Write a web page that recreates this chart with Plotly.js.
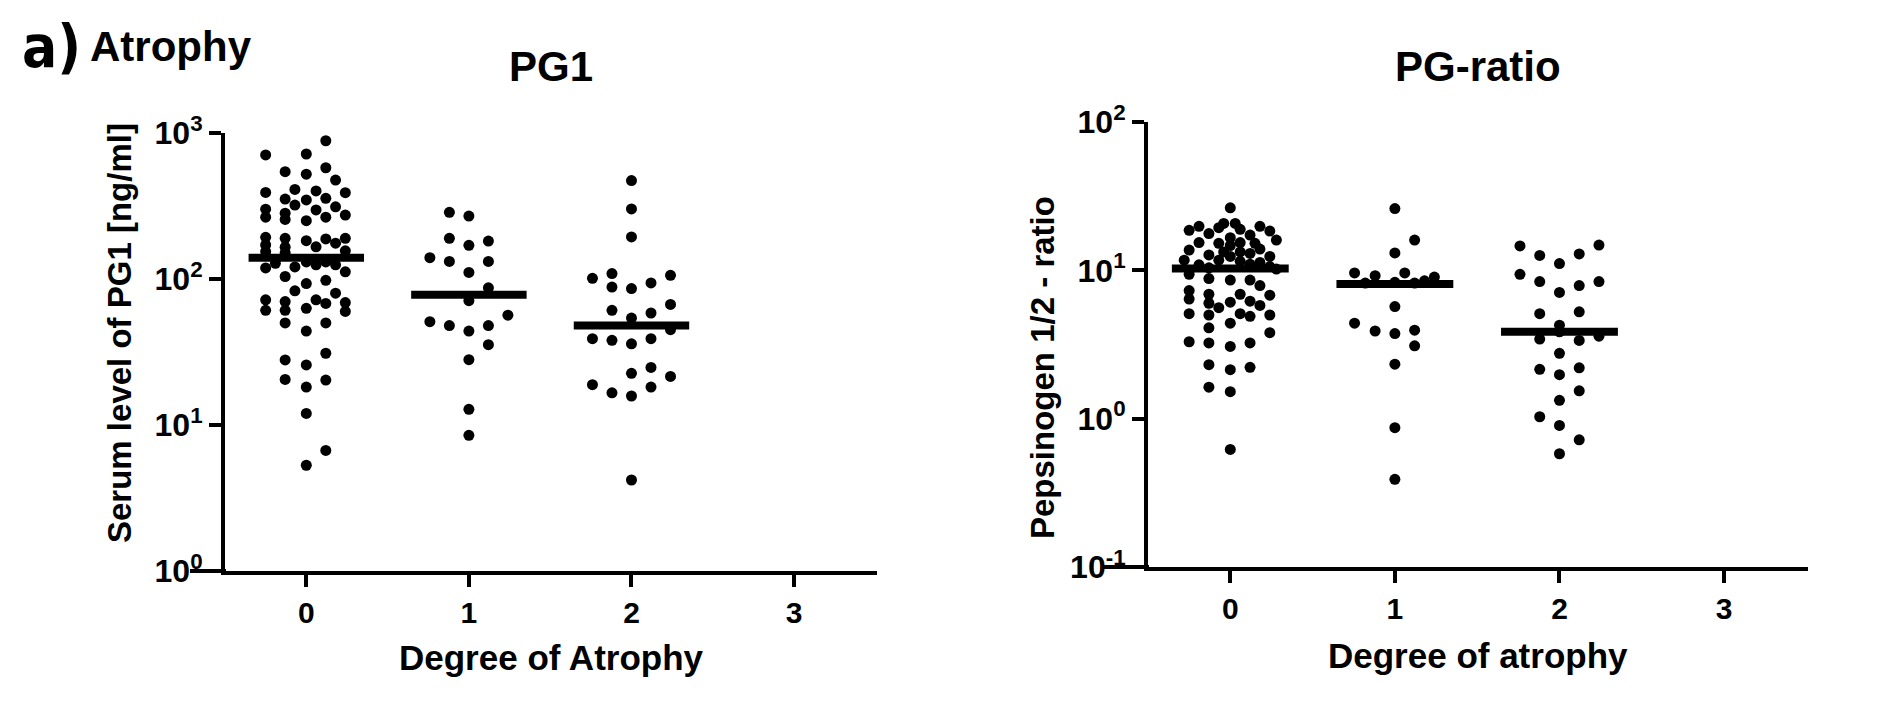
<!DOCTYPE html>
<html>
<head>
<meta charset="utf-8">
<script src="https://cdn.plot.ly/plotly-3.0.1.min.js"></script>
<style>
  html, body { margin: 0; padding: 0; background: #fff; }
  #chart { width: 1890px; height: 709px; }
</style>
</head>
<body>
<div id="chart"></div>
<script>
// degree of atrophy categories
const degrees = [0, 1, 2, 3];
const degreeLabels = ['0', '1', '2', '3'];

// PG1 serum level [ng/ml], per degree, with horizontal spread of each dot (category units)
const pg1Deg0 = [885, 707, 718, 543, 522, 578, 476, 392, 411, 401, 390, 353, 348, 357, 321, 297, 312, 301,
  265, 256, 282, 251, 265, 274, 193, 171, 190, 165, 183, 188, 176, 190, 166, 156, 154, 151,
  119, 128, 121, 125, 125, 131, 131, 112, 104, 93, 98, 83, 80, 72, 61, 70, 61, 63, 72, 68, 69, 60,
  50, 50, 44, 31, 27.9, 25.8, 20.5, 20.3, 18.2, 12, 6.7, 5.3];
const pg1Dx0 = [0.12, -0.25, 0, -0.13, 0, 0.12, 0.18, -0.25, -0.07, 0.06, 0.24, -0.13, 0, 0.12, -0.07, 0.06, 0.18, -0.25,
  -0.25, -0.13, -0.13, 0, 0.12, 0.24, -0.25, -0.25, -0.13, -0.13, 0, 0.12, 0.18, 0.24, 0.06, 0.24, -0.25, -0.13,
  -0.25, -0.19, -0.07, 0.06, 0.18, 0, 0.12, 0.24, -0.13, 0, 0.12, -0.07, 0.18, -0.25, -0.25, -0.13, -0.13, 0, 0.06, 0.12, 0.24, 0.24,
  -0.13, 0.12, 0, 0.12, -0.13, 0, -0.13, 0.12, 0, 0, 0.12, 0];
const pg1Deg1 = [286, 270, 190, 182, 170, 140, 132, 132, 111, 87, 71, 56.5, 51, 48, 48, 44, 35.5, 28, 12.8, 8.5];
const pg1Dx1 = [-0.12, 0, -0.12, 0.12, 0, -0.24, -0.12, 0.12, 0, 0.12, 0, 0.24, -0.24, -0.12, 0.12, 0, 0.12, 0, 0, 0];
const pg1Deg2 = [472, 302, 194, 101, 109, 106, 88, 86, 94, 67, 61, 54, 58.5, 39, 38, 36, 39, 45, 24.8, 22.6, 21.5,
  18.9, 16.6, 15.8, 18.2, 4.2];
const pg1Dx2 = [0, 0, 0, -0.24, -0.12, 0.24, -0.12, 0, 0.12, 0.24, -0.12, 0, 0.12, -0.24, -0.12, 0, 0.12, 0.24, 0.12, 0, 0.24,
  -0.24, -0.12, 0, 0.12, 0];
const pg1Medians = [140, 78, 48];

// pepsinogen 1/2 ratio, per degree
const ratioDeg0 = [26.4, 18.6, 19.8, 17.7, 19.4, 20.7, 20.7, 18.9, 19.8, 18.4, 17.3, 16.6, 15.2, 15.4, 15.4, 16.0, 14.7, 15.2,
  13.7, 12.7, 13.3, 13.3, 13.0, 13.9, 12.4, 11.7,
  10.0, 10.9, 10.4, 11.7, 12.4, 11.5, 11.0, 11.3, 10.6, 10.2,
  9.4, 8.8, 8.6, 8.6, 7.9, 7.3, 6.4, 6.9, 6.9, 6.8, 6.0, 5.6, 6.1, 6.2, 5.8, 5.1, 5.0, 5.1, 4.9, 5.0,
  4.4, 4.1, 3.8, 3.3, 3.24, 3.07, 3.24, 2.31, 2.14, 2.22, 1.63, 1.52, 0.62];
const ratioDx0 = [0, -0.25, -0.19, -0.13, -0.07, -0.04, 0.03, 0.06, 0.18, 0.24, 0.12, 0, -0.07, -0.19, 0.06, 0.28, 0, 0.15,
  -0.25, -0.13, -0.04, 0.06, 0.12, 0.18, 0.24, -0.28,
  -0.25, -0.19, -0.13, -0.07, 0, 0.06, 0.12, 0.18, 0.24, 0.28,
  -0.25, -0.13, 0, 0.12, 0.18, -0.25, -0.25, -0.13, 0.06, 0.24, -0.13, -0.07, 0, 0.12, 0.18, -0.25, -0.13, 0.06, 0.12, 0.24,
  0, -0.13, 0.24, -0.25, -0.13, 0, 0.12, -0.13, 0, 0.12, -0.13, 0, 0];
const ratioDeg1 = [26.1, 16, 13.1, 9.6, 9.2, 9.6, 9.0, 8.3, 8.2, 8.2, 8.5, 5.7, 4.4, 3.9, 3.75, 3.95, 3.1, 2.33, 0.87, 0.39];
const ratioDx1 = [0, 0.12, 0, -0.245, -0.12, 0.06, 0.24, 0, -0.18, 0.12, 0.18, 0, -0.245, -0.12, 0, 0.12, 0.12, 0, 0, 0];
const ratioDeg2 = [14.6, 14.8, 12.6, 12.9, 11.1, 9.4, 8.4, 8.4, 7.9, 7.1, 5.1, 5.25, 4.27, 3.44, 3.37, 3.6, 3.85, 2.76,
  2.15, 2.2, 1.98, 1.54, 1.33, 1.03, 0.90, 0.72, 0.58];
const ratioDx2 = [-0.24, 0.24, -0.12, 0.12, 0, -0.24, -0.12, 0.24, 0.12, 0, -0.12, 0.12, 0, -0.12, 0.12, 0.24, 0, 0,
  -0.12, 0.12, 0, 0.12, 0, -0.12, 0, 0.12, 0];
const ratioMedians = [10.3, 8.1, 3.85];

const pg1Ticks = [1, 10, 100, 1000];
const pg1TickText = ['10<sup>0</sup>', '10<sup>1</sup>', '10<sup>2</sup>', '10<sup>3</sup>'];
const ratioTicks = [0.1, 1, 10, 100];
const ratioTickText = ['10<sup>-1</sup>', '10<sup>0</sup>', '10<sup>1</sup>', '10<sup>2</sup>'];

const W = 1890, H = 709;
const px = x => x / W;
const py = y => 1 - y / H;
const FONT = 'Liberation Sans, Arial, Helvetica, sans-serif';
const MEDIAN_HALF = 0.355;

function dots(values, dx, group, xa, ya) {
  return {
    type: 'scatter', mode: 'markers',
    x: values.map((v, i) => group + dx[i]), y: values,
    xaxis: xa, yaxis: ya,
    marker: { color: '#000', size: 11 },
    cliponaxis: false, hoverinfo: 'y', showlegend: false
  };
}

function medianLines(medians, xa, ya) {
  return medians.map((m, g) => ({
    type: 'scatter', mode: 'lines',
    x: [g - MEDIAN_HALF, g + MEDIAN_HALF], y: [m, m],
    xaxis: xa, yaxis: ya,
    line: { color: '#000', width: 8 },
    hoverinfo: 'y', showlegend: false
  }));
}

const data = [
  dots(pg1Deg0, pg1Dx0, 0, 'x', 'y'),
  dots(pg1Deg1, pg1Dx1, 1, 'x', 'y'),
  dots(pg1Deg2, pg1Dx2, 2, 'x', 'y'),
  ...medianLines(pg1Medians, 'x', 'y'),
  dots(ratioDeg0, ratioDx0, 0, 'x2', 'y2'),
  dots(ratioDeg1, ratioDx1, 1, 'x2', 'y2'),
  dots(ratioDeg2, ratioDx2, 2, 'x2', 'y2'),
  ...medianLines(ratioMedians, 'x2', 'y2')
];

const xTickFont = { family: FONT, size: 30, color: '#000', weight: 'bold' };
const yTickFont = { family: FONT, size: 32, color: '#000', weight: 'bold' };

function xAxis(domain, anchor) {
  return {
    domain: domain, anchor: anchor, range: [-0.5, 3.51],
    tickvals: degrees, ticktext: degreeLabels,
    ticks: 'outside', ticklen: 12, tickwidth: 4, tickcolor: '#000',
    showline: true, linewidth: 4, linecolor: '#000',
    showgrid: false, zeroline: false, tickfont: xTickFont
  };
}

function yAxis(domain, anchor, range, vals, text) {
  return {
    domain: domain, anchor: anchor, type: 'log', range: range,
    tickvals: vals, ticktext: text,
    ticks: 'outside', ticklen: 12, tickwidth: 4, tickcolor: '#000',
    showline: true, linewidth: 4, linecolor: '#000',
    showgrid: false, zeroline: false, tickfont: yTickFont
  };
}

function label(text, x, y, size, opts) {
  return Object.assign({
    text: text, x: px(x), y: py(y), xref: 'paper', yref: 'paper',
    showarrow: false, xanchor: 'center', yanchor: 'middle',
    font: { family: FONT, size: size, color: '#000', weight: 'bold' }
  }, opts || {});
}

const layout = {
  width: W, height: H,
  margin: { l: 0, r: 0, t: 0, b: 0 },
  paper_bgcolor: '#fff', plot_bgcolor: '#fff',
  showlegend: false,
  xaxis: xAxis([px(225), px(877)], 'y'),
  yaxis: yAxis([py(571), py(133)], 'x', [0, 3], pg1Ticks, pg1TickText),
  xaxis2: xAxis([px(1148), px(1808)], 'y2'),
  yaxis2: yAxis([py(567), py(122)], 'x2', [-1, 2], ratioTicks, ratioTickText),
  shapes: [
    { type: 'line', xref: 'paper', yref: 'paper', x0: px(190), x1: px(226), y0: py(571), y1: py(571),
      line: { color: '#000', width: 4 } },
    { type: 'line', xref: 'paper', yref: 'paper', x0: px(1103), x1: px(1149), y0: py(567), y1: py(567),
      line: { color: '#000', width: 4 } }
  ],
  annotations: [
    label('a)', 20, 47, 58, { xanchor: 'left', font: { family: 'Liberation Sans Narrow, DejaVu Sans Condensed, sans-serif', size: 58, color: '#000', weight: 'bold' } }),
    label('Atrophy', 88, 46, 42, { xanchor: 'left' }),
    label('PG1', 551, 67, 42),
    label('PG-ratio', 1478, 67, 42),
    label('Degree of Atrophy', 551, 657, 35),
    label('Degree of atrophy', 1478, 655, 35),
    label('Serum level of PG1 [ng/ml]', 120, 333, 33, { textangle: -90 }),
    label('Pepsinogen 1/2 - ratio', 1042, 368, 33, { textangle: -90 })
  ]
};

Plotly.newPlot('chart', data, layout, { displayModeBar: false, staticPlot: true });
</script>
</body>
</html>
